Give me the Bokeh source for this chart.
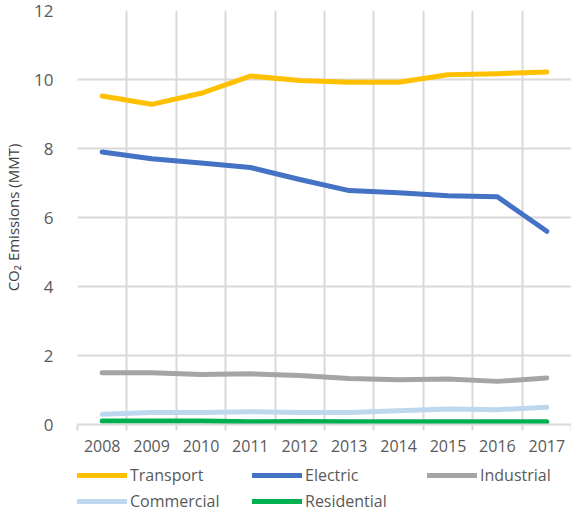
from bokeh.plotting import figure
from bokeh.models import Legend, LegendItem, FixedTicker, Range1d
from bokeh.layouts import column
from bokeh.embed import file_html
from bokeh.resources import INLINE

years = [2008, 2009, 2010, 2011, 2012, 2013, 2014, 2015, 2016, 2017]
transport = [9.52, 9.28, 9.6, 10.1, 9.97, 9.92, 9.92, 10.14, 10.17, 10.22]
electric = [7.9, 7.7, 7.58, 7.45, 7.1, 6.78, 6.72, 6.63, 6.6, 5.6]
industrial = [1.5, 1.5, 1.45, 1.47, 1.42, 1.33, 1.3, 1.32, 1.25, 1.35]
commercial = [0.3, 0.35, 0.35, 0.37, 0.35, 0.35, 0.4, 0.45, 0.43, 0.5]
residential = [0.1, 0.1, 0.1, 0.08, 0.09, 0.08, 0.08, 0.08, 0.08, 0.08]

series = [
    ("Transport", transport, "#FFC000"),
    ("Electric", electric, "#4472C4"),
    ("Industrial", industrial, "#A5A5A5"),
    ("Commercial", commercial, "#BDD7EE"),
    ("Residential", residential, "#00B050"),
]

FONT = "Open Sans"
TXT = "#595959"

p = figure(width=571, height=460, output_backend="svg", toolbar_location=None,
           x_range=Range1d(years[0] - 0.5, years[-1] + 0.5), y_range=Range1d(0, 12),
           min_border_left=77, min_border_right=0, min_border_top=10, min_border_bottom=36)
p.outline_line_color = None
p.background_fill_color = "white"
p.border_fill_color = "white"

for name, vals, col in series:
    p.line(years, vals, line_color=col, line_width=5, line_cap="round", line_join="round")

# x axis
bounds = [y + 0.5 for y in [years[0] - 1] + years]
p.xaxis.ticker = FixedTicker(ticks=years, minor_ticks=bounds)
p.xaxis.major_tick_line_color = None
p.xaxis.minor_tick_line_color = "#D9D9D9"
p.xaxis.minor_tick_line_width = 2
p.xaxis.minor_tick_out = 6
p.xaxis.minor_tick_in = 0
p.xaxis.axis_line_color = "#D9D9D9"
p.xaxis.axis_line_width = 2
p.xaxis.major_label_text_font = FONT
p.xaxis.major_label_text_font_size = "16px"
p.xaxis.major_label_text_color = TXT
p.xaxis.major_label_standoff = 9

p.xgrid.ticker = FixedTicker(ticks=bounds)
p.xgrid.grid_line_color = "#D9D9D9"
p.xgrid.grid_line_width = 2

# y axis
p.yaxis.ticker = FixedTicker(ticks=[0, 2, 4, 6, 8, 10, 12])
p.yaxis.axis_line_color = None
p.yaxis.major_tick_line_color = None
p.yaxis.minor_tick_line_color = None
p.yaxis.major_label_text_font = FONT
p.yaxis.major_label_text_font_size = "17px"
p.yaxis.major_label_text_color = TXT
p.yaxis.major_label_standoff = 18
p.yaxis.axis_label = "CO\u2082 Emissions (MMT)"
p.yaxis.axis_label_text_font = FONT
p.yaxis.axis_label_text_font_style = "normal"
p.yaxis.axis_label_text_font_size = "15px"
p.yaxis.axis_label_text_color = "#404040"
p.yaxis.axis_label_standoff = 8

p.ygrid.grid_line_color = "#D9D9D9"
p.ygrid.grid_line_width = 2

# legend strip below the chart (series drawn out of view, only legend shown)
lg = figure(width=571, height=53, output_backend="svg", toolbar_location=None,
            x_axis_type=None, y_axis_type=None,
            x_range=Range1d(0, 1), y_range=Range1d(0, 1),
            min_border_left=0, min_border_right=0,
            min_border_top=0, min_border_bottom=0)
lg.outline_line_color = None
lg.xgrid.visible = False
lg.ygrid.visible = False

items = []
for name, vals, col in series:
    r = lg.line(years, vals, line_color=col, line_width=5, line_cap="round", line_join="round")
    items.append(LegendItem(label=name, renderers=[r]))

common = dict(orientation="horizontal", glyph_width=50, glyph_height=20,
              label_standoff=3, label_width=119, spacing=3, padding=0, margin=0,
              border_line_color=None, background_fill_alpha=0,
              label_text_font=FONT, label_text_font_size="16px", label_text_color=TXT,
              label_height=20)
leg1 = Legend(items=items[:3], location=(0, 27), **common)
leg2 = Legend(items=items[3:], location=(0, 1), **common)
lg.add_layout(leg1, "center")
lg.add_layout(leg2, "center")

layout = column(p, lg, spacing=0)
open("out.html", "w").write(file_html(layout, INLINE))
